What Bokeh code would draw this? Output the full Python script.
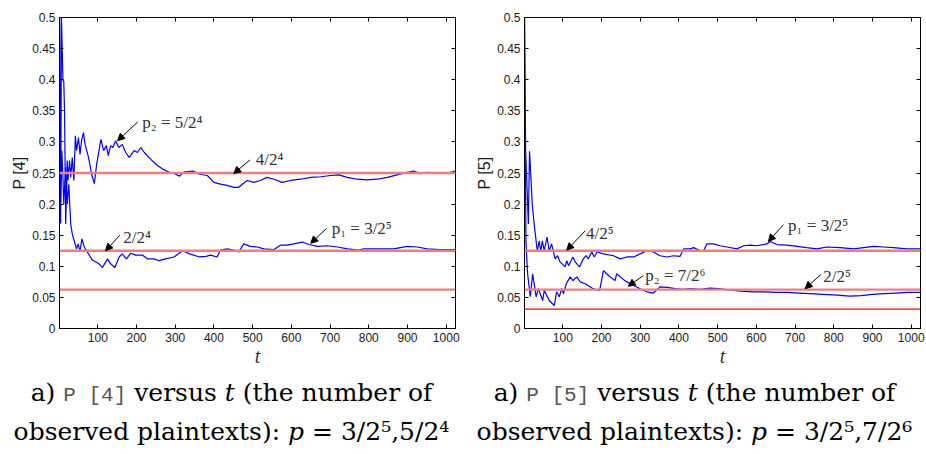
from bokeh.plotting import figure
from bokeh.models import (Range1d, FixedTicker, LinearAxis, CustomJSTickFormatter,
                          Label, Arrow, NormalHead, Span, Div)
from bokeh.layouts import column, row
from bokeh.embed import file_html
from bokeh.resources import INLINE

# ---------------- data ----------------
x_ticks = [100, 200, 300, 400, 500, 600, 700, 800, 900, 1000]
y_ticks = [0, 0.05, 0.1, 0.15, 0.2, 0.25, 0.3, 0.35, 0.4, 0.45, 0.5]

# panel a: P[4]
p4_upper_t = [1, 4, 6, 10, 12, 14, 17, 21, 23, 27, 30, 34, 38, 42, 45, 50, 54, 58, 63, 67,
              76, 84, 91, 97, 108, 115, 122, 127, 133, 139, 146, 154, 163, 172, 181, 194,
              202, 211, 220, 237, 250, 268, 285, 298, 311, 324, 346, 363, 383, 400, 417,
              434, 451, 464, 473, 486, 503, 520, 537, 555, 576, 598, 624, 650, 676, 701,
              723, 744, 770, 796, 822, 848, 873, 899, 916, 934, 951, 977, 1003, 1024]
p4_upper_v = [0.5, 0.169, 0.5, 0.398, 0.398, 0.35, 0.168, 0.27, 0.238, 0.27, 0.243, 0.275,
              0.238, 0.31, 0.286, 0.307, 0.28, 0.302, 0.315, 0.296, 0.275, 0.248, 0.233,
              0.264, 0.304, 0.286, 0.294, 0.278, 0.294, 0.291, 0.302, 0.291, 0.296, 0.283,
              0.275, 0.286, 0.283, 0.291, 0.283, 0.272, 0.264, 0.256, 0.251, 0.249, 0.245,
              0.252, 0.253, 0.248, 0.246, 0.235, 0.232, 0.230, 0.227, 0.227, 0.232, 0.238,
              0.235, 0.238, 0.243, 0.240, 0.235, 0.238, 0.240, 0.243, 0.244, 0.246, 0.247,
              0.243, 0.240, 0.239, 0.240, 0.243, 0.247, 0.251, 0.253, 0.249, 0.251, 0.250,
              0.250, 0.253]
p4_lower_t = [1, 4, 7, 10, 12, 17, 21, 25, 30, 34, 39, 45, 49, 54, 59, 65, 71, 78, 86, 95,
              103, 112, 125, 133, 144, 155, 163, 174, 185, 198, 215, 228, 245, 258, 275,
              297, 319, 337, 363, 380, 391, 408, 417, 434, 451, 464, 477, 494, 512, 529,
              555, 572, 589, 606, 628, 645, 667, 693, 719, 745, 774, 787, 813, 839, 865,
              899, 925, 951, 985, 1024]
p4_lower_v = [0.5, 0.2, 0.286, 0.24, 0.2, 0.26, 0.2, 0.232, 0.168, 0.152, 0.141, 0.128,
              0.136, 0.125, 0.144, 0.131, 0.125, 0.118, 0.110, 0.107, 0.104, 0.098, 0.112,
              0.104, 0.098, 0.115, 0.120, 0.112, 0.121, 0.118, 0.118, 0.112, 0.112, 0.109,
              0.112, 0.115, 0.125, 0.120, 0.115, 0.116, 0.118, 0.115, 0.126, 0.128, 0.126,
              0.123, 0.136, 0.132, 0.131, 0.128, 0.127, 0.134, 0.134, 0.136, 0.139, 0.135,
              0.132, 0.133, 0.131, 0.128, 0.126, 0.128, 0.128, 0.128, 0.128, 0.132, 0.131,
              0.128, 0.127, 0.127]
p4_levels = [0.25, 0.125, 0.0625]

# panel b: P[5]
p5_upper_t = [1, 4, 11, 14, 18, 21, 26, 31, 34, 39, 43, 47, 52, 59, 65, 71, 80, 86, 93,
              106, 110, 115, 126, 132, 143, 153, 160, 166, 175, 181, 189, 205, 231, 248,
              265, 283, 300, 317, 334, 351, 369, 386, 403, 412, 429, 438, 455, 463, 472,
              489, 506, 524, 550, 567, 584, 601, 627, 636, 653, 679, 705, 730, 756, 782,
              817, 851, 877, 903, 929, 954, 989, 1024]
p5_upper_v = [0.5, 0.285, 0.168, 0.285, 0.237, 0.2, 0.168, 0.141, 0.125, 0.141, 0.123,
              0.141, 0.125, 0.147, 0.125, 0.136, 0.112, 0.117, 0.107, 0.099, 0.109, 0.101,
              0.115, 0.107, 0.099, 0.112, 0.117, 0.112, 0.123, 0.115, 0.123, 0.120, 0.117,
              0.112, 0.115, 0.115, 0.120, 0.125, 0.123, 0.117, 0.115, 0.117, 0.116, 0.128,
              0.128, 0.130, 0.125, 0.124, 0.136, 0.136, 0.133, 0.131, 0.128, 0.133, 0.134,
              0.133, 0.136, 0.140, 0.135, 0.134, 0.132, 0.130, 0.128, 0.131, 0.130, 0.128,
              0.130, 0.132, 0.131, 0.130, 0.128, 0.128]
p5_lower_t = [1, 2, 5, 9, 16, 22, 31, 37, 48, 52, 65, 78, 84, 91, 97, 102, 109, 119, 126,
              136, 145, 158, 178, 195, 205, 220, 235, 239, 260, 280, 300, 317, 334, 351,
              370, 390, 410, 430, 455, 480, 500, 530, 560, 590, 620, 650, 680, 710, 740,
              770, 800, 842, 870, 900, 930, 960, 990, 1024]
p5_lower_v = [0.5, 0.333, 0.136, 0.088, 0.051, 0.088, 0.051, 0.064, 0.045, 0.061, 0.045,
              0.037, 0.059, 0.051, 0.064, 0.056, 0.072, 0.083, 0.077, 0.083, 0.075, 0.072,
              0.064, 0.061, 0.093, 0.084, 0.077, 0.088, 0.077, 0.070, 0.064, 0.059, 0.057,
              0.067, 0.066, 0.064, 0.063, 0.064, 0.063, 0.065, 0.064, 0.062, 0.060, 0.059,
              0.059, 0.058, 0.058, 0.057, 0.056, 0.055, 0.054, 0.052, 0.053, 0.055, 0.056,
              0.057, 0.058, 0.058]
p5_levels = [0.125, 0.0625, 0.03125]

# annotations: (text, text_x, text_y, arrow tail x, tail y, head x, head y)
p4_notes = [("p₂ = 5/2⁴", 215, 0.331, 203, 0.332, 151, 0.302),
            ("4/2⁴", 508, 0.271, 493, 0.271, 451, 0.249),
            ("2/2⁴", 166, 0.146, 157, 0.150, 120, 0.125),
            ("p₁ = 3/2⁵", 704, 0.160, 691, 0.161, 650, 0.137)]
p5_notes = [("4/2⁵", 160, 0.153, 158, 0.157, 110, 0.126),
            ("p₁ = 3/2⁵", 682, 0.165, 670, 0.167, 631, 0.140),
            ("p₂ = 7/2⁶", 313, 0.085, 308, 0.085, 269, 0.068),
            ("2/2⁵", 773, 0.083, 767, 0.087, 726, 0.064)]

SANS = "Liberation Sans"
SERIF = "Liberation Serif"


def make_panel(ylabel, series, levels, level_styles, notes, left, right, top):
    p = figure(width=463, height=372, x_range=Range1d(1, 1024), y_range=Range1d(0, 0.5),
               output_backend="svg", toolbar_location=None,
               min_border_left=left, min_border_right=right, min_border_top=top,
               min_border_bottom=44)
    p.background_fill_color = "white"
    p.border_fill_color = "white"
    p.outline_line_color = "black"
    p.outline_line_width = 1
    p.xgrid.grid_line_color = None
    p.ygrid.grid_line_color = None

    fmt = CustomJSTickFormatter(code="return String(Math.round(tick*100)/100);")
    for ax, ticks in ((p.xaxis[0], x_ticks), (p.yaxis[0], y_ticks)):
        ax.ticker = FixedTicker(ticks=ticks)
        ax.major_tick_in = 4
        ax.major_tick_out = 0
        ax.minor_tick_line_color = None
        ax.axis_line_color = "black"
        ax.major_tick_line_color = "black"
        ax.major_label_text_font = SANS
        ax.major_label_text_font_size = "12px"
        ax.major_label_text_color = "#1a1a1a"
        ax.major_label_standoff = 4
    p.yaxis[0].formatter = fmt
    p.yaxis[0].axis_label = ylabel
    p.yaxis[0].axis_label_text_font = SANS
    p.yaxis[0].axis_label_text_font_style = "normal"
    p.yaxis[0].axis_label_text_font_size = "16px"
    p.yaxis[0].axis_label_text_color = "#1a1a1a"
    p.yaxis[0].axis_label_standoff = 1
    p.xaxis[0].axis_label = "t"
    p.xaxis[0].axis_label_text_font = SERIF
    p.xaxis[0].axis_label_text_font_style = "italic"
    p.xaxis[0].axis_label_text_font_size = "20px"
    p.xaxis[0].axis_label_text_color = "#333333"
    p.xaxis[0].axis_label_standoff = 0

    blank = CustomJSTickFormatter(code="return '';")
    for loc, ticks in (("above", x_ticks), ("right", y_ticks)):
        ax = LinearAxis(ticker=FixedTicker(ticks=ticks), formatter=blank,
                        major_tick_in=4, major_tick_out=0,
                        minor_tick_line_color=None, major_label_text_color=None,
                        major_label_standoff=0, axis_line_color="black")
        p.add_layout(ax, loc)

    for (ts, vs) in series:
        p.line(ts, vs, line_color="#0000ff", line_width=1.2)

    for lvl, (col, lw) in zip(levels, level_styles):
        p.add_layout(Span(location=lvl, dimension="width", line_color=col, line_width=lw))

    for (txt, tx, ty, x0, y0, x1, y1) in notes:
        p.add_layout(Arrow(end=NormalHead(size=7, fill_color="black", line_color="black",
                                          line_width=1),
                           x_start=x0, y_start=y0, x_end=x1, y_end=y1,
                           line_color="black", line_width=1))
        p.add_layout(Label(x=tx, y=ty, text=txt, text_font=SERIF, text_font_size="17px",
                           text_color="#333333", text_baseline="alphabetic",
                           text_align="left"))
    return p


light = ("#f47c7c", 2.4)
p_a = make_panel("P [4]", [(p4_upper_t, p4_upper_v), (p4_lower_t, p4_lower_v)],
                 p4_levels, [light, light, light], p4_notes, 59, 8, 17)
p_b = make_panel("P [5]", [(p5_upper_t, p5_upper_v), (p5_lower_t, p5_lower_v)],
                 p5_levels, [light, light, ("#ff0000", 1.2)], p5_notes, 61, 6, 16)

cap_style = ("width:463px;font-family:'DejaVu Serif';font-size:25px;line-height:36px;"
             "text-align:center;color:#000;white-space:nowrap;margin:0;padding:3px 0 0 0;")
mono = "font-family:'Liberation Mono';font-size:21px;color:#555;"
cap_a = Div(text=(f"<div style=\"{cap_style}\">a) <span style=\"{mono}\">P [4]</span> versus "
                  "<i>t</i> (the number of<br>observed plaintexts): <i>p</i> = 3/2⁵,5/2⁴</div>"),
            width=463, height=82, margin=0)
cap_b = Div(text=(f"<div style=\"{cap_style}\">a) <span style=\"{mono}\">P [5]</span> versus "
                  "<i>t</i> (the number of<br>observed plaintexts): <i>p</i> = 3/2⁵,7/2⁶</div>"),
            width=463, height=82, margin=0)

layout = column(row(p_a, p_b), row(cap_a, cap_b))
open("out.html", "w").write(file_html(layout, INLINE))
